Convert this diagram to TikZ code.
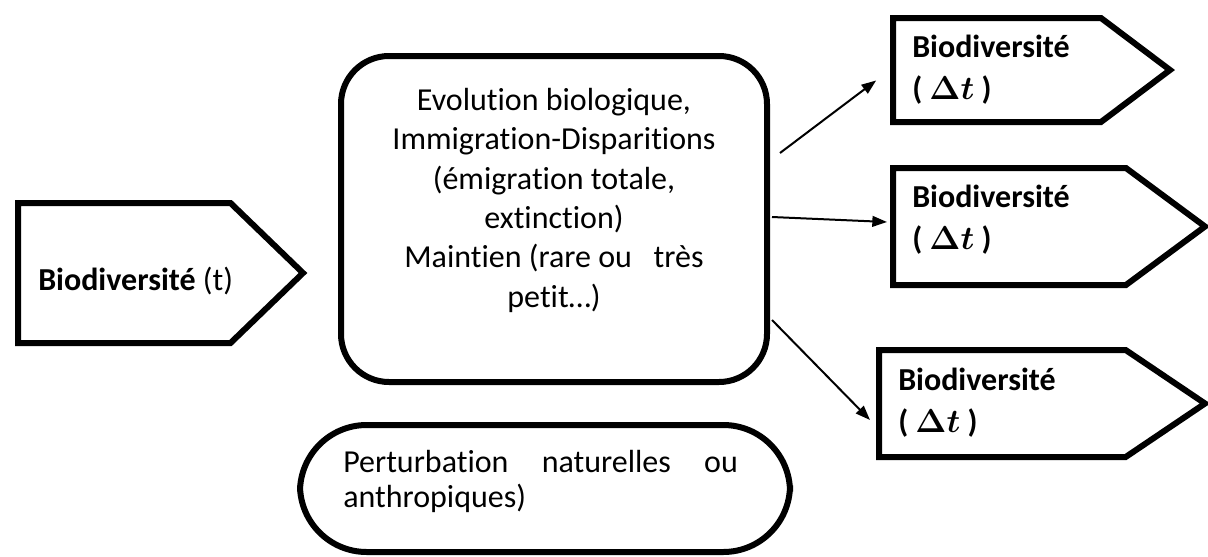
\documentclass[tikz,border=0pt]{standalone}
\usepackage{amsmath}
\usepackage{bm}
\usepackage{fontspec}
\setmainfont{Carlito}[Ligatures=CommonOff]
\usetikzlibrary{shapes.symbols, arrows.meta, calc}

\begin{document}
\begin{tikzpicture}[
    x=0.75pt, y=-0.75pt,
    txt/.style={font=\fontsize{24}{29.5}\selectfont, inner sep=0pt},
    bigtxt/.style={txt, font=\fontsize{24}{31.5}\selectfont, align=left, anchor=west},
    sigbox/.style={signal, signal to=east, draw, line width=4.5pt, inner sep=0pt, anchor=west},
    roundbox/.style={draw, line width=4.5pt},
    arrow/.style={-{Triangle[length=11pt,width=8pt]}, line width=1.5pt}
  ]
    \useasboundingbox (0,0) rectangle (1208,557);

    \node[sigbox, signal pointer angle=88, minimum width=213.75pt, minimum height=105pt] (bioT) at (15,273) {};
    \node[txt, anchor=base west] (bioTtxt) at (38,290) {\textbf{Biodiversité} (t)};

    \node[roundbox, rounded corners=36pt, minimum width=319.5pt, minimum height=244.5pt] (evol) at (554,219) {};
    \node[txt, align=center, anchor=north] (evoltxt) at (554,88) {Evolution biologique,\\ Immigration-Disparitions\\ (émigration totale,\\ extinction)\\ Maintien (rare ou\ \ \ très\\ petit…)};

    \node[sigbox, signal pointer angle=74, minimum width=207.75pt, minimum height=78pt] (bioA) at (890,70) {};
    \node[bigtxt] (bioAtxt) at (912,70) {\textbf{Biodiversité}\\ \textbf{(} $\bm{\Delta t}$ \textbf{)}};
    \node[sigbox, signal pointer angle=73, minimum width=234pt, minimum height=87.75pt] (bioB) at (890,226.5) {};
    \node[bigtxt] (bioBtxt) at (912,220) {\textbf{Biodiversité}\\ \textbf{(} $\bm{\Delta t}$ \textbf{)}};
    \node[sigbox, signal pointer angle=68, minimum width=244.5pt, minimum height=80.25pt] (bioC) at (876,403.5) {};
    \node[bigtxt] (bioCtxt) at (898,403) {\textbf{Biodiversité}\\ \textbf{(} $\bm{\Delta t}$ \textbf{)}};

    \node[roundbox, rounded corners=50pt, minimum width=367.5pt, minimum height=95.25pt] (pert) at (545,488.5) {};
    \node[txt, font=\fontsize{24}{26}\selectfont, text width=296pt, align=left, anchor=north west] (perttxt) at (343,450) {Perturbation\hfill naturelles\hfill ou\\ anthropiques)};

    \draw[arrow, shorten >=13pt] ($(evol.east)+(10,-66)$) -- (bioA.west);
    \draw[arrow] ($(evol.east)+(2,-2)$) -- ($(bioB.west)+(-3,-4.5)$);
    \draw[arrow] ($(evol.east)+(2,101)$) -- ($(bioC.west)+(-6,16.5)$);
  \end{tikzpicture}
\end{document}
